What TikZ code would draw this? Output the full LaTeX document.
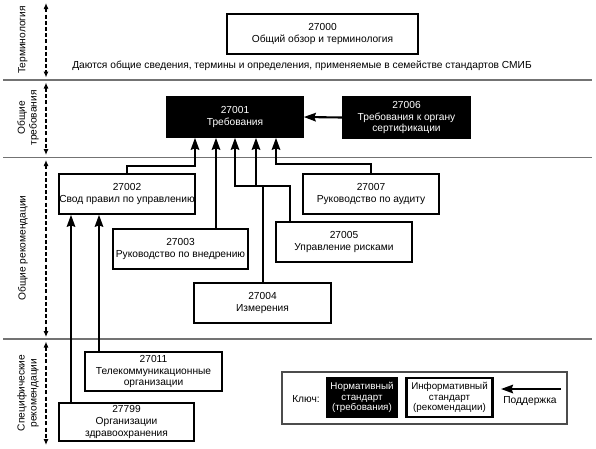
\documentclass[tikz,border=0pt]{standalone}
\usepackage{fontspec}
\setmainfont{Liberation Sans}
\usetikzlibrary{arrows.meta}
\begin{document}
\begin{tikzpicture}[x=1pt,y=-1pt,
  every node/.style={font=\fontsize{10.2}{11.8}\selectfont, align=center, inner sep=0pt},
  wbox/.style={draw=black, line width=1.6pt, fill=white, minimum width=#1},
  wbox/.default=136pt,
  bbox/.style={draw=black, fill=black, text=white, line width=1.6pt, minimum width=#1},
  bbox/.default=136pt,
  conn/.style={line width=2.1pt, -{Stealth[length=12pt,width=8.5pt,inset=1.5pt]}},
  sep/.style={draw=black!55, line width=1.5pt},
  dasharr/.style={line width=1.1pt, dash pattern=on 4pt off 2.2pt, {Latex[length=6pt,width=5pt]}-{Latex[length=6pt,width=5pt]}},
  sidelabel/.style={rotate=90, font=\fontsize{10.2}{11.8}\selectfont}]
\useasboundingbox (0,0) rectangle (596,448);
\fill[white] (0,0) rectangle (596,448);

% separators
\draw[sep] (3,80) -- (592,80);
\draw[sep] (3,157.5) -- (592,157.5);
\draw[sep] (3,339) -- (592,339);

% dashed range arrows
\draw[dasharr] (46,3) -- (46,77.5);
\draw[dasharr] (46,82.5) -- (46,155);
\draw[dasharr] (46,160) -- (46,337);
\draw[dasharr] (46,341.5) -- (46,445);

% side labels
\node[sidelabel] (lTerm) at (23,40) {Терминология};
\node[sidelabel] (lReq) at (28,118) {Общие\\требования};
\node[sidelabel] (lRec) at (23,248) {Общие рекомендации};
\node[sidelabel] (lSpec) at (28,393) {Специфические\\рекомендации};

% nodes
\node[wbox=191pt, minimum height=40pt] (n27000) at (322.5,34) {27000\\Общий обзор и терминология};
\node (intro) at (302,66) {Даются общие сведения, термины и определения, применяемые в семействе стандартов СМИБ};

\node[bbox=136pt, minimum height=40pt] (n27001) at (235,117) {27001\\Требования};
\node[bbox=127pt, minimum height=41pt] (n27006) at (406.5,117.5) {27006\\Требования к органу\\сертификации};

\node[wbox=136pt, minimum height=40pt] (n27002) at (127,194) {27002\\Свод правил по управлению};
\node[wbox=135pt, minimum height=40pt] (n27003) at (180.5,249) {27003\\Руководство по внедрению};
\node[wbox=137pt, minimum height=40pt] (n27004) at (262.5,303) {27004\\Измерения};
\node[wbox=136pt, minimum height=40pt] (n27005) at (344,242) {27005\\Управление рисками};
\node[wbox=136pt, minimum height=40pt] (n27007) at (371,194) {27007\\Руководство по аудиту};
\node[wbox=137pt, minimum height=39pt] (n27011) at (153.5,371.5) {27011\\Телекоммуникационные\\организации};
\node[wbox=135pt, minimum height=38pt] (n27799) at (126.5,422) {27799\\Организации\\здравоохранения};

% attachment points on 27001 bottom
\coordinate (a1) at ([xshift=-40pt]n27001.south);
\coordinate (a2) at ([xshift=-19pt]n27001.south);
\coordinate (a3) at (n27001.south);
\coordinate (a4) at ([xshift=21pt]n27001.south);
\coordinate (a5) at ([xshift=41pt]n27001.south);
\coordinate (b1) at ([xshift=-56pt]n27002.south);
\coordinate (b2) at ([xshift=-28pt]n27002.south);

% connectors
\draw[conn] (n27006.west) -- (n27001.east);
\draw[conn] (n27002.north) -- ++(0,-7) -| (a1);
\draw[conn] (n27003.north -| a2) -- (a2);
\draw[conn] ([xshift=0.5pt]n27004.north) -- ++(0,-96) -| (a3);
\draw[conn] ([xshift=-54pt]n27005.north) -- ++(0,-35) -| (a4);
\draw[conn] (n27007.north) -- ++(0,-9) -| (a5);
\draw[conn] (n27011.north -| b2) -- (b2);
\draw[conn] (n27799.north -| b1) -- (b1);

% key
\node[draw=black!70, line width=2.4pt, fill=white, minimum width=285pt, minimum height=52pt] (key) at (424.5,398) {};
\node (keylabel) at (306,399) {Ключ:};
\node[bbox=71pt, minimum height=39pt, font=\fontsize{9.8}{10.6}\selectfont] (keyN) at (362,397.5) {Нормативный\\стандарт\\(требования)};
\node[draw=black, line width=2.2pt, fill=white, minimum width=86pt, minimum height=39pt, font=\fontsize{9.8}{10.6}\selectfont] (keyI) at (449.5,397.5) {Информативный\\стандарт\\(рекомендации)};
\node (keysup) at (530,401) {Поддержка};
\coordinate (ks) at (561,389);
\coordinate (ke) at (501,389);
\draw[conn] (ks) -- (ke);
\end{tikzpicture}
\end{document}
